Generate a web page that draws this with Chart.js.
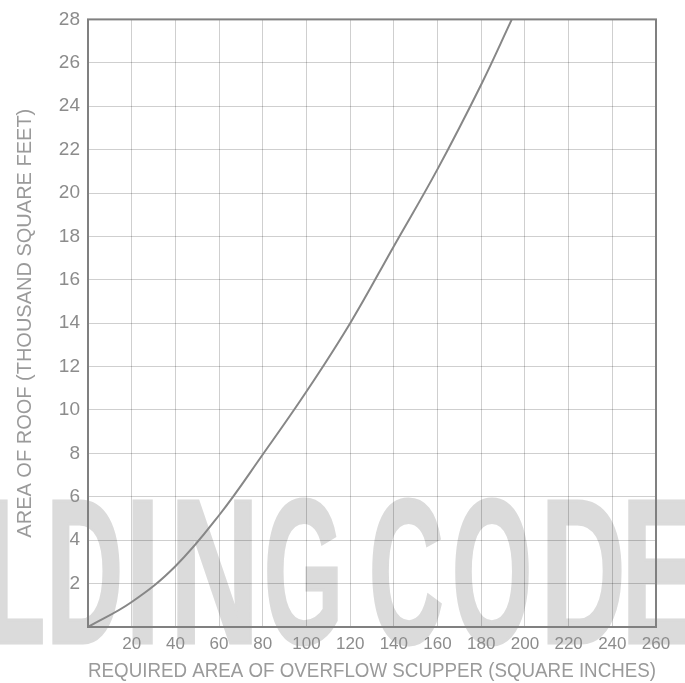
<!DOCTYPE html>
<html>
<head>
<meta charset="utf-8">
<script src="https://cdn.jsdelivr.net/npm/chart.js@4.4.1/dist/chart.umd.min.js"></script>
<style>
  html, body { margin: 0; padding: 0; background: #fff; }
  #wrap { width: 685px; height: 683px; }
</style>
</head>
<body>
<div id="wrap"><canvas id="scupperChart"></canvas></div>
<script>
// Scupper area (sq in) vs roof area (thousand sq ft)
const scupperArea = [0, 20, 40, 60, 80, 100, 120, 140, 160, 180, 194];
const roofArea    = [0, 1.15, 2.8, 5.15, 7.95, 10.85, 14.0, 17.55, 21.1, 25.0, 28];

const xTickLabels = [20, 40, 60, 80, 100, 120, 140, 160, 180, 200, 220, 240, 260];
const yTickLabels = [2, 4, 6, 8, 10, 12, 14, 16, 18, 20, 22, 24, 26, 28];

const xTitle = 'REQUIRED AREA OF OVERFLOW SCUPPER (SQUARE INCHES)';
const yTitle = 'AREA OF ROOF (THOUSAND SQUARE FEET)';

// watermark letters and the left/right edge each one covers
const markLetters = ['L', 'D', 'I', 'N', 'G', 'C', 'O', 'D', 'E'];
const markLeft    = [-8, 52, 132, 177, 267, 372, 455, 547, 628];
const markRight   = [43, 120, 153, 252, 338, 442, 529, 622, 692];

const points = scupperArea.map((x, i) => ({ x: x, y: roofArea[i] }));

const axisGray = '#808080';
const gridGray = 'rgba(0,0,0,0.19)';
const textGray = '#8c8c8c';

const watermark = {
    id: 'watermark',
    beforeDraw(chart) {
        const ctx = chart.ctx;
        const size = 206;
        const stroke = 3;
        ctx.save();
        ctx.fillStyle = '#dbdbdb';
        ctx.strokeStyle = '#dbdbdb';
        ctx.lineWidth = stroke;
        ctx.font = 'bold ' + size + 'px "Liberation Sans", Arial, sans-serif';
        ctx.textBaseline = 'alphabetic';
        markLetters.forEach((ch, i) => {
            const m = ctx.measureText(ch);
            const bw = m.actualBoundingBoxLeft + m.actualBoundingBoxRight;
            const sx = (markRight[i] - markLeft[i]) / (bw + stroke);
            ctx.save();
            ctx.translate(markLeft[i], 643);
            ctx.scale(sx, 1);
            const ox = stroke / 2 + m.actualBoundingBoxLeft;
            ctx.fillText(ch, ox, 0);
            ctx.strokeText(ch, ox, 0);
            ctx.restore();
        });
        ctx.restore();
    }
};

const frame = {
    id: 'frame',
    afterDatasetsDraw(chart) {
        const a = chart.chartArea;
        const ctx = chart.ctx;
        ctx.save();
        ctx.strokeStyle = axisGray;
        ctx.lineWidth = 2;
        ctx.strokeRect(a.left, a.top, a.right - a.left, a.bottom - a.top);
        ctx.restore();
    }
};

const ctx = document.getElementById('scupperChart').getContext('2d');
const scupperChart = new Chart(ctx, {
    type: 'line',
    data: {
        datasets: [{
            label: 'Roof area',
            data: points,
            borderColor: '#878787',
            borderWidth: 2,
            pointRadius: 0,
            fill: false,
            tension: 0.4,
        }]
    },
    options: {
        responsive: true,
        maintainAspectRatio: false,
        animation: false,
        layout: { padding: { top: 15, right: 29, left: 0, bottom: 0 } },
        plugins: {
            legend: { display: false },
            tooltip: { enabled: false },
        },
        scales: {
            x: {
                type: 'linear',
                min: 0,
                max: 260,
                afterFit(scale) { scale.height = 56; },
                border: { display: false },
                grid: { color: gridGray, lineWidth: 1, drawTicks: false },
                ticks: {
                    stepSize: 20,
                    autoSkip: false,
                    maxRotation: 0,
                    padding: 7,
                    color: textGray,
                    font: { family: '"Liberation Sans", Arial, sans-serif', size: 17 },
                    callback: (v) => xTickLabels.includes(v) ? String(v) : '',
                },
                title: {
                    display: true,
                    text: xTitle,
                    color: '#9a9a9a',
                    padding: { top: 0, bottom: 0 },
                    font: { family: '"Liberation Sans", Arial, sans-serif', size: 19.6 },
                },
            },
            y: {
                min: 0,
                max: 28,
                afterFit(scale) { scale.width = 88; },
                border: { display: false },
                grid: { color: gridGray, lineWidth: 1, drawTicks: false },
                ticks: {
                    stepSize: 2,
                    autoSkip: false,
                    padding: 8,
                    color: textGray,
                    font: { family: '"Liberation Sans", Arial, sans-serif', size: 19 },
                    callback: (v) => yTickLabels.includes(v) ? String(v) : '',
                },
                title: {
                    display: true,
                    text: yTitle,
                    color: '#9a9a9a',
                    padding: { top: 13, bottom: 0 },
                    font: { family: '"Liberation Sans", Arial, sans-serif', size: 20 },
                },
            },
        },
    },
    plugins: [watermark, frame],
});
</script>
</body>
</html>
